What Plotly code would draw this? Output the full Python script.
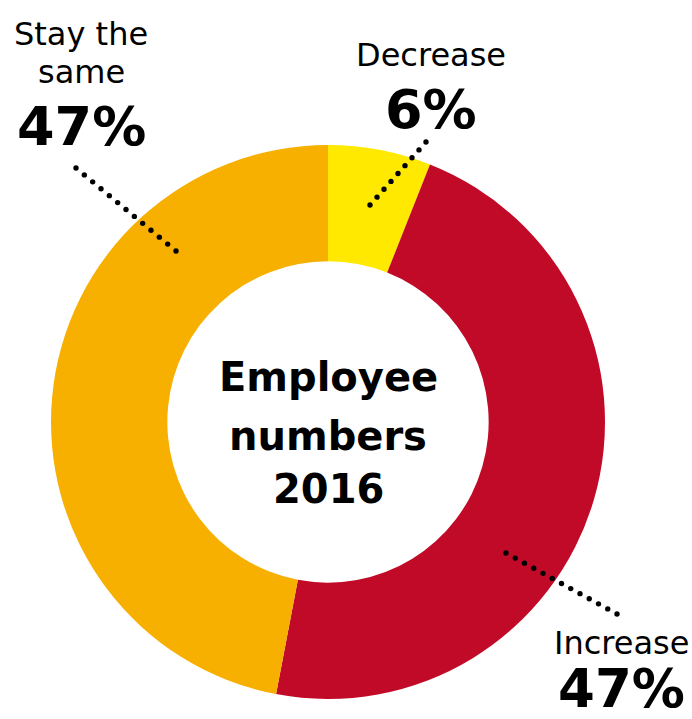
import numpy as np
import plotly.graph_objects as go

W, H = 692, 719

# Survey split of expected employee numbers in 2016
categories = ["Decrease", "Increase", "Stay the same"]
shares = [6, 47, 47]
colors = ["#FFE900", "#C10A27", "#F7AF00"]
label_lines = [["Decrease"], ["Increase"], ["Stay the", "same"]]

center_title = ["Employee", "numbers", "2016"]

FONT = "DejaVu Sans"


def px(x):
    return x / W


def py(y):
    return 1 - y / H


# donut geometry in pixels
cx, cy, R = 328, 422, 277

fig = go.Figure(
    go.Pie(
        labels=categories,
        values=shares,
        sort=False,
        direction="clockwise",
        rotation=0,
        hole=0.58,
        marker=dict(colors=colors, line=dict(width=0)),
        textinfo="none",
        hoverinfo="label+percent",
        domain=dict(x=[px(cx - R), px(cx + R)], y=[py(cy + R), py(cy - R)]),
    )
)

annotations = []

# label blocks: centre x, line centres, percent centre, percent size (pixels)
label_pos = {
    "Decrease": dict(x=431, lines=[55], pct=109, size=54),
    "Increase": dict(x=621, lines=[643], pct=688, size=53),
    "Stay the same": dict(x=81, lines=[34, 72], pct=127, size=54),
}

for cat, val, lines in zip(categories, shares, label_lines):
    pos = label_pos[cat]
    for txt, yy in zip(lines, pos["lines"]):
        annotations.append(dict(
            x=px(pos["x"]), y=py(yy), xref="paper", yref="paper",
            text=txt, showarrow=False, xanchor="center", yanchor="middle",
            font=dict(family=FONT, size=32, color="#000000"),
        ))
    annotations.append(dict(
        x=px(pos["x"]), y=py(pos["pct"]), xref="paper", yref="paper",
        text=f"<b>{val}%</b>", showarrow=False, xanchor="center", yanchor="middle",
        font=dict(family=FONT, size=pos["size"], color="#000000"),
    ))

for txt, yy in zip(center_title, [377, 436, 489]):
    annotations.append(dict(
        x=px(cx), y=py(yy), xref="paper", yref="paper",
        text=f"<b>{txt}</b>", showarrow=False, xanchor="center", yanchor="middle",
        font=dict(family=FONT, size=40, color="#000000"),
    ))

# dotted leader lines from each slice to its label
leaders = {
    "Decrease": ((370, 205), (426, 142), 9),
    "Increase": ((506, 553), (617, 614), 13),
    "Stay the same": ((176, 251), (76, 168), 13),
}

shapes = []
dot_r = 2.7
for cat in categories:
    (x0, y0), (x1, y1), n = leaders[cat]
    for t in np.linspace(0, 1, n):
        dx = x0 + (x1 - x0) * t
        dy = y0 + (y1 - y0) * t
        shapes.append(dict(
            type="circle", xref="paper", yref="paper", layer="above",
            x0=px(dx - dot_r), x1=px(dx + dot_r),
            y0=py(dy + dot_r), y1=py(dy - dot_r),
            fillcolor="#000000", line=dict(width=0),
        ))

fig.update_layout(
    width=W, height=H,
    margin=dict(l=0, r=0, t=0, b=0),
    paper_bgcolor="#FFFFFF",
    plot_bgcolor="#FFFFFF",
    showlegend=False,
    annotations=annotations,
    shapes=shapes,
)

fig.write_html("out.html")
